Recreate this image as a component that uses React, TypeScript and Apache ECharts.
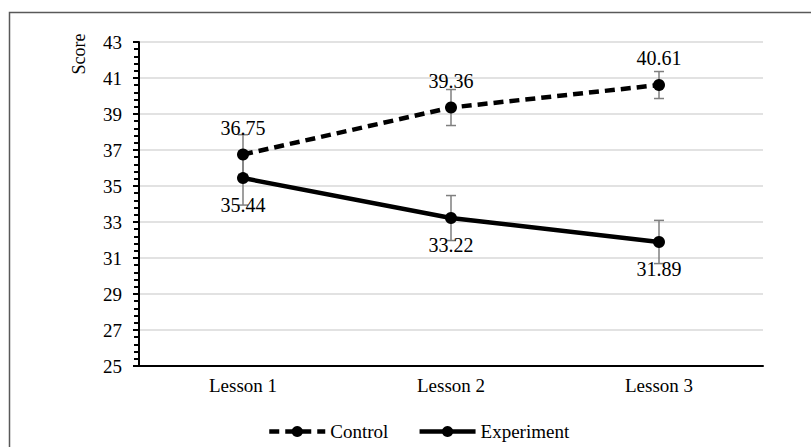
import React, { useEffect, useRef } from "react";
import * as echarts from "echarts";

const categories = ["Lesson 1", "Lesson 2", "Lesson 3"];
const controlValues = [36.75, 39.36, 40.61];
const experimentValues = [35.44, 33.22, 31.89];
const controlErrors = [1.1, 1.0, 0.75];
const experimentErrors = [1.5, 1.25, 1.2];
const yMin = 25;
const yMax = 43;
const yInterval = 2;

const FONT = "Liberation Serif";

function errorData(values: number[], errs: number[]) {
  return values.map((v, i) => [i, v - errs[i], v + errs[i]]);
}

export default function App() {
  const ref = useRef<HTMLDivElement>(null);
  useEffect(() => {
    if (!ref.current) return;
    const chart = echarts.init(ref.current, undefined, { renderer: "svg" });
    const renderErr = (params: any, api: any) => {
      const x = api.value(0);
      const lo = api.coord([x, api.value(1)]);
      const hi = api.coord([x, api.value(2)]);
      const cap = 5;
      const style = { stroke: "#7f7f7f", lineWidth: 1.5 };
      return {
        type: "group",
        children: [
          { type: "line", shape: { x1: hi[0], y1: hi[1], x2: lo[0], y2: lo[1] }, style },
          { type: "line", shape: { x1: hi[0] - cap, y1: hi[1], x2: hi[0] + cap, y2: hi[1] }, style },
          { type: "line", shape: { x1: lo[0] - cap, y1: lo[1], x2: lo[0] + cap, y2: lo[1] }, style },
        ],
      };
    };
    const serif = { fontFamily: FONT, color: "#000" };
    const makeLabel = (position: string) => ({
      show: true,
      position,
      distance: 11,
      fontFamily: FONT,
      fontSize: 20,
      color: "#000",
      formatter: (p: any) => "{s|" + Number(p.value).toFixed(2) + "}",
      rich: { s: { ...serif, fontSize: 20 } },
    });
    chart.setOption({
      animation: false,
      backgroundColor: "#ffffff",
      textStyle: { fontFamily: FONT },
      graphic: [
        {
          type: "rect",
          shape: { x: 9.5, y: 12.5, width: 900, height: 600 },
          style: { fill: "none", stroke: "#595959", lineWidth: 1.5 },
          silent: true,
          z: 0,
        },
        {
          type: "text",
          x: 79,
          y: 54,
          rotation: Math.PI / 2,
          style: {
            text: "Score",
            fontFamily: FONT,
            fontSize: 18,
            fill: "#000",
            textAlign: "center",
            textVerticalAlign: "middle",
          },
        },
      ],
      grid: { left: 139, right: 48, top: 42, bottom: 81, containLabel: false },
      legend: {
        bottom: 1,
        left: 262,
        itemWidth: 56,
        itemHeight: 14,
        itemGap: 29,
        textStyle: { ...serif, fontSize: 19, rich: { s: { ...serif, fontSize: 19 } } },
        formatter: (name: string) => "{s|" + name + "}",
        data: [
          { name: "Control", lineStyle: { width: 4.5, type: [10, 6], color: "#000" } },
          { name: "Experiment", lineStyle: { width: 4.5, color: "#000" } },
        ],
      },
      xAxis: {
        type: "category",
        data: categories,
        boundaryGap: true,
        axisLine: { lineStyle: { color: "#000", width: 2 } },
        axisTick: { show: false },
        axisLabel: { ...serif, fontSize: 19, margin: 10 },
        splitLine: { show: false },
      },
      yAxis: {
        type: "value",
        min: yMin,
        max: yMax,
        interval: yInterval,
        axisLine: { show: true, lineStyle: { color: "#000", width: 2 } },
        axisTick: { show: true, length: 6, lineStyle: { color: "#000", width: 2 } },
        minorTick: { show: true, splitNumber: 5, length: 5, lineStyle: { color: "#000", width: 2 } },
        minorSplitLine: { show: false },
        axisLabel: { ...serif, fontSize: 19, margin: 17 },
        splitLine: { show: true, lineStyle: { color: "#d9d9d9", width: 1.5 } },
      },
      series: [
        {
          name: "ControlErr",
          type: "custom",
          renderItem: renderErr,
          data: errorData(controlValues, controlErrors),
          encode: { x: 0, y: [1, 2] },
          z: 1,
          silent: true,
        },
        {
          name: "ExperimentErr",
          type: "custom",
          renderItem: renderErr,
          data: errorData(experimentValues, experimentErrors),
          encode: { x: 0, y: [1, 2] },
          z: 1,
          silent: true,
        },
        {
          name: "Control",
          type: "line",
          data: controlValues,
          symbol: "circle",
          symbolSize: 12,
          itemStyle: { color: "#000" },
          lineStyle: { color: "#000", width: 4.5, type: [10, 6] },
          label: makeLabel("top"),
          z: 3,
        },
        {
          name: "Experiment",
          type: "line",
          data: experimentValues,
          symbol: "circle",
          symbolSize: 12,
          itemStyle: { color: "#000" },
          lineStyle: { color: "#000", width: 4.5 },
          label: makeLabel("bottom"),
          z: 3,
        },
      ],
    });
    return () => chart.dispose();
  }, []);
  return (
    <div
      ref={ref}
      style={{ position: "fixed", left: 0, top: 0, width: 811, height: 447 }}
    />
  );
}
